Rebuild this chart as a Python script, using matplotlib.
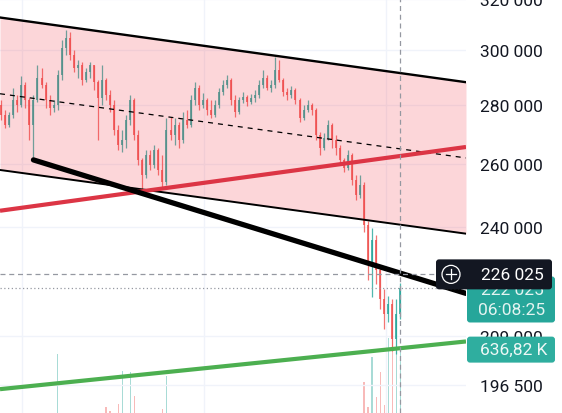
import numpy as np
import matplotlib
matplotlib.use("Agg")
import matplotlib.pyplot as plt
from matplotlib.patches import FancyBboxPatch, Circle
from matplotlib.lines import Line2D
from matplotlib.transforms import IdentityTransform
from matplotlib.ticker import FixedLocator, FuncFormatter, NullLocator

plt.rcParams['font.family'] = ['Roboto', 'DejaVu Sans']

# candle prices in thousands
first_open = 279.9
closes = [276.4, 272.95, 276.4, 281.7, 279.9, 287.05, 281.7, 272.95, 281.7, 289.6,
          287.05, 281.7, 278.9, 279.9, 290.7, 300.75, 304.55, 298.1, 293.3, 294.4,
          288.9, 291.8, 294.4, 288.15, 282.4, 288.9, 283.5, 279.9, 271.25, 266.2,
          267.85, 274.7, 281.7, 269.55, 261.2, 256.3, 262.85, 259.55, 264.5, 257.9,
          254.05, 271.25, 269.55, 272.95, 267.85, 274.7, 272.95, 281.7, 285.95, 279.9,
          281.7, 278.2, 276.4, 279.9, 284.55, 287.05, 288.9, 281.7, 277.5, 281.7,
          282.8, 281.0, 282.4, 283.5, 287.05, 289.6, 285.95, 287.05, 292.55, 288.9,
          284.55, 283.5, 285.25, 281.7, 275.4, 278.2, 279.9, 278.2, 269.55, 265.2,
          268.5, 272.95, 267.85, 265.2, 261.2, 258.55, 262.85, 254.7, 249.95, 253.1,
          240.65, 228.85, 236.15, 227.4, 219.0, 214.9, 217.6, 208.25, 214.9, 222.025]
highs = [281.7, 278.2, 277.5, 285.95, 283.5, 290.3, 288.15, 282.4, 283.5, 294.4,
         293.3, 288.15, 283.5, 281.7, 292.55, 303.8, 307.65, 306.9, 300.0, 296.25,
         295.5, 293.3, 295.5, 294.4, 288.9, 294.4, 289.6, 285.25, 281.7, 272.95,
         271.25, 276.4, 283.5, 282.4, 271.25, 261.85, 264.5, 264.5, 266.2, 265.2,
         262.85, 275.4, 275.7, 275.4, 274.0, 277.5, 278.2, 283.5, 288.15, 287.05,
         284.2, 282.4, 281.7, 281.7, 285.95, 288.9, 290.7, 289.6, 283.5, 282.8,
         284.55, 283.5, 283.85, 285.25, 288.9, 292.55, 290.7, 288.9, 297.35, 296.25,
         289.6, 285.95, 286.7, 285.95, 282.4, 279.9, 281.7, 280.6, 278.9, 270.6,
         270.2, 274.7, 273.6, 269.55, 266.2, 261.85, 264.5, 263.5, 256.3, 256.3,
         254.0, 241.7, 239.75, 237.65, 228.85, 221.75, 219.8, 219.0, 219.0, 223.7]
lows = [274.7, 271.9, 272.3, 275.4, 277.5, 279.2, 278.9, 267.85, 261.2, 281.0,
        285.95, 278.9, 276.4, 277.5, 278.2, 288.9, 298.1, 296.25, 291.8, 289.6,
        287.05, 288.15, 289.6, 285.25, 267.85, 279.9, 281.7, 277.5, 269.55, 264.5,
        263.85, 265.2, 272.95, 267.85, 259.55, 250.9, 255.35, 257.9, 258.55, 256.3,
        252.45, 253.1, 267.85, 266.2, 265.2, 266.85, 271.9, 272.3, 279.9, 278.2,
        278.9, 276.4, 275.4, 275.7, 278.9, 283.5, 285.95, 279.9, 275.7, 276.8,
        280.6, 279.55, 280.25, 281.0, 282.4, 285.95, 285.25, 284.55, 285.95, 288.15,
        283.15, 281.7, 282.4, 280.25, 274.0, 274.7, 277.5, 276.4, 267.85, 262.85,
        264.5, 267.85, 265.2, 262.85, 260.2, 257.25, 257.9, 253.1, 248.35, 249.0,
        238.55, 224.55, 219.55, 223.15, 216.25, 210.9, 212.75, 205.15, 204.35, 213.55]
# volume in K
volumes = [180, 150, 140, 210, 160, 230, 190, 240, 280, 250,
           170, 160, 150, 140, 613, 270, 260, 220, 180, 150,
           160, 140, 150, 170, 290, 230, 332, 310, 260, 348,
           523, 270, 518, 390, 280, 295, 240, 200, 210, 250,
           321, 497, 230, 180, 170, 200, 160, 220, 190, 170,
           150, 140, 160, 130, 170, 150, 140, 180, 160, 130,
           120, 110, 130, 120, 150, 170, 140, 130, 210, 190,
           160, 140, 130, 150, 200, 170, 150, 140, 230, 250,
           180, 160, 200, 190, 220, 210, 230, 270, 290, 260,
           465, 330, 598, 385, 518, 340, 700, 760, 820, 636.82]

# drawings: (bar index, price)
channel_x = [-0.3, 115.3]
channel_top = [312700, 288150]
channel_bottom = [257900, 237950]
red_line_x = [-0.3, 115.3]
red_line_y = [244950, 265500]
black_line_x = [8, 115.3]
black_line_y = [261200, 220650]
green_line_x = [-0.3, 115.3]
green_line_y = [195500, 207650]
grid_x = [5.2, 50.3, 95.5]
price_ticks = [196500, 209000, 240000, 260000, 280000, 300000, 320000]
cross_price = 226025
last_price = 222025
countdown = "06:08:25"
vol_label = "636,82 K"

TEAL = '#26a69a'
RED = '#ef5350'

closes = np.array(closes) * 1000
highs = np.array(highs) * 1000
lows = np.array(lows) * 1000
opens = np.concatenate([[first_open * 1000], closes[:-1]])
idx = np.arange(len(closes))
up = closes >= opens
colors = np.where(up, TEAL, RED)

W, H = 562, 414
fig = plt.figure(figsize=(W / 100, H / 100), dpi=100)
axv = fig.add_axes([0, 0, 466 / W, 1])
ax = fig.add_axes([0, 0, 466 / W, 1], sharex=axv)
ax.patch.set_visible(False)

# volume
axv.bar(idx, volumes, width=0.3, color=colors, alpha=0.4, linewidth=0)
axv.set_ylim(300, 2500)
axv.axis('off')

ax.set_yscale('log')
ax.set_xlim(-0.3, 115.3)
ax.set_ylim(189700, 320100)

for p in price_ticks:
    ax.axhline(p, color='#f0f3fa', lw=1, zorder=0)
for gx in grid_x:
    ax.axvline(gx, color='#f0f3fa', lw=1, zorder=0)

ax.vlines(idx, lows, highs, colors=colors, lw=0.9, alpha=0.8, zorder=2)
ax.bar(idx, np.abs(closes - opens), bottom=np.minimum(opens, closes), width=0.5,
       color=colors, alpha=0.8, linewidth=0, zorder=2)

# channel
ax.fill_between(channel_x, channel_bottom, channel_top, color='#f23645', alpha=0.2,
                lw=0, zorder=3)
ax.plot(channel_x, channel_top, color='black', lw=1.7, zorder=4)
ax.plot(channel_x, channel_bottom, color='black', lw=1.4, zorder=4)
mid = np.sqrt(np.array(channel_top) * np.array(channel_bottom))
ax.plot(channel_x, mid, color='black', lw=0.9, ls=(0, (4, 4)), zorder=4)

ax.plot(red_line_x, red_line_y, color='#dc3545', lw=3.0, zorder=5, solid_capstyle='butt')
ax.plot(black_line_x, black_line_y, color='black', lw=3.8, zorder=5, solid_capstyle='round')
ax.plot(green_line_x, green_line_y, color='#4caf50', lw=3.0, zorder=5, solid_capstyle='butt')

# crosshair and last price line
ax.axhline(cross_price, color='#9598a1', lw=0.9, ls=(0, (4, 3)), zorder=6)
ax.axvline(idx[-1], color='#9598a1', lw=0.9, ls=(0, (4, 3)), zorder=6)
ax.axhline(last_price, color='#9598a1', lw=0.9, ls=(0, (1, 2)), zorder=6)

ax.yaxis.tick_right()
ax.yaxis.set_major_locator(FixedLocator(price_ticks))
ax.yaxis.set_minor_locator(NullLocator())
ax.yaxis.set_major_formatter(FuncFormatter(lambda v, _: f"{v:,.0f}".replace(",", " ")))
ax.tick_params(axis='y', length=0, pad=10, labelsize=12.5, labelcolor='#131722')
ax.tick_params(axis='x', bottom=False, labelbottom=False)
for s in ax.spines.values():
    s.set_visible(False)

# price-scale labels, placed in pixels from the data transforms
ident = IdentityTransform()
y_cross = ax.transData.transform((0, cross_price))[1]
y_last = ax.transData.transform((0, last_price))[1]
y_vol = axv.transData.transform((0, volumes[-1]))[1]

fig.add_artist(FancyBboxPatch((467, y_last - 34), 88, 46, boxstyle='round,pad=0,rounding_size=3',
                              fc=TEAL, ec='none', transform=ident, zorder=10))
fig.text(512, y_last - 1, f"{last_price:,.0f}".replace(",", " "), color='#e3f4f1', fontsize=12.5,
         ha='center', va='center', transform=ident, zorder=11)
fig.text(512, y_last - 21, countdown, color='#e3f4f1', fontsize=12.5,
         ha='center', va='center', transform=ident, zorder=11)

fig.add_artist(FancyBboxPatch((467, y_vol - 13), 88, 26, boxstyle='round,pad=0,rounding_size=3',
                              fc='#2fae9f', ec='none', transform=ident, zorder=10))
fig.text(514, y_vol, vol_label, color='#eef8f6', fontsize=12.5,
         ha='center', va='center', transform=ident, zorder=11)

fig.add_artist(FancyBboxPatch((436, y_cross - 15), 116, 30, boxstyle='round,pad=0,rounding_size=3',
                              fc='#131722', ec='none', transform=ident, zorder=12))
fig.add_artist(Circle((451, y_cross), 9, fc='none', ec='white', lw=0.9,
                      transform=ident, zorder=13))
fig.add_artist(Line2D([446, 456], [y_cross, y_cross], color='white', lw=0.9,
                      transform=ident, zorder=13))
fig.add_artist(Line2D([451, 451], [y_cross - 5, y_cross + 5], color='white', lw=0.9,
                      transform=ident, zorder=13))
fig.text(512, y_cross, f"{cross_price:,.0f}".replace(",", " "), color='white', fontsize=12.5,
         ha='center', va='center', transform=ident, zorder=13)

fig.savefig('out.png', dpi=100)
